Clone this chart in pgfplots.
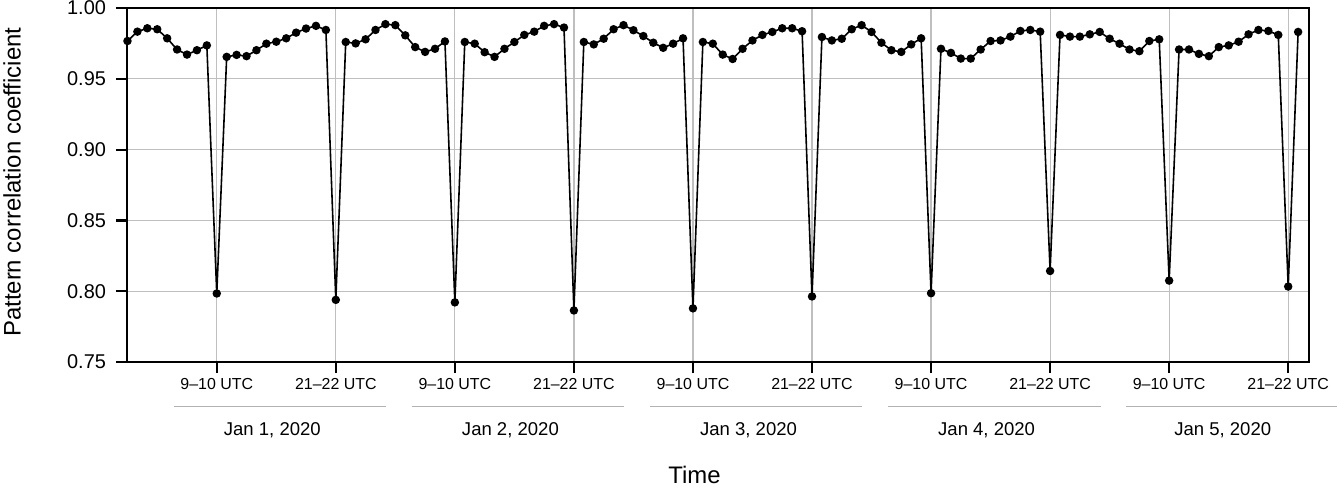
\documentclass[border=0pt]{standalone}
\usepackage{pgfplots}
\usepackage{pgfplotstable}
\pgfplotsset{compat=1.18}
\usepackage{fontspec}
\setmainfont{Liberation Sans}

% hourly pattern correlation, hour 0 = Jan 1 00 UTC
\pgfplotstableread{
h r
0 0.9767
1 0.9833
2 0.9857
3 0.9850
4 0.9786
5 0.9707
6 0.9671
7 0.9702
8 0.9736
9 0.7984
10 0.9655
11 0.9669
12 0.9660
13 0.9702
14 0.9748
15 0.9762
16 0.9786
17 0.9826
18 0.9855
19 0.9874
20 0.9845
21 0.7939
22 0.9760
23 0.9750
24 0.9779
25 0.9845
26 0.9886
27 0.9879
28 0.9807
29 0.9724
30 0.9690
31 0.9712
32 0.9764
33 0.7921
34 0.9760
35 0.9748
36 0.9688
37 0.9655
38 0.9712
39 0.9760
40 0.9810
41 0.9833
42 0.9874
43 0.9886
44 0.9862
45 0.7864
46 0.9760
47 0.9743
48 0.9783
49 0.9850
50 0.9879
51 0.9843
52 0.9802
53 0.9755
54 0.9719
55 0.9748
56 0.9786
57 0.7879
58 0.9760
59 0.9748
60 0.9671
61 0.9640
62 0.9712
63 0.9771
64 0.9810
65 0.9831
66 0.9857
67 0.9857
68 0.9836
69 0.7963
70 0.9795
71 0.9771
72 0.9783
73 0.9850
74 0.9879
75 0.9831
76 0.9755
77 0.9702
78 0.9690
79 0.9743
80 0.9786
81 0.7986
82 0.9712
83 0.9683
84 0.9643
85 0.9643
86 0.9707
87 0.9767
88 0.9771
89 0.9798
90 0.9838
91 0.9845
92 0.9833
93 0.8143
94 0.9810
95 0.9798
96 0.9798
97 0.9814
98 0.9831
99 0.9783
100 0.9748
101 0.9707
102 0.9695
103 0.9767
104 0.9779
105 0.8075
106 0.9707
107 0.9707
108 0.9676
109 0.9660
110 0.9724
111 0.9736
112 0.9762
113 0.9814
114 0.9845
115 0.9838
116 0.9810
117 0.8033
118 0.9831
}\corr

\begin{document}
\begin{tikzpicture}
\begin{axis}[
  scale only axis, width=591bp, height=177bp,
  xmin=-0.05, xmax=119.1, ymin=0.75, ymax=1.00,
  xtick={9,21,...,117}, xticklabels={},
  ytick={0.75,0.80,...,1.00},
  yticklabels={0.75,0.80,0.85,0.90,0.95,1.00},
  yticklabel style={font=\fontsize{10}{12}\selectfont, xshift=-1.5bp},
  xtick pos=bottom, ytick pos=left,
  tick align=outside, major tick length=5.5bp,
  tick style={black, line width=1.1pt},
  axis line style={line width=1.1pt},
  grid=major, grid style={gray!50, line width=0.6pt},
  clip=false,
]
  \addplot[black, line width=0.8pt, mark=*, mark size=1.7pt] table[x=h, y=r] {\corr};

  % hour labels under the ticks, and a rule under each day
  \foreach \d in {0,...,4}{
    \pgfmathsetmacro{\a}{9+24*\d}
    \pgfmathsetmacro{\b}{21+24*\d}
    \pgfmathsetmacro{\l}{4.65+24*\d}
    \pgfmathsetmacro{\r}{26.08+24*\d}
    \edef\tmp{
      \noexpand\node[anchor=base, font=\noexpand\fontsize{8}{10}\noexpand\selectfont] at (axis cs:\a,0.7307) {9--10 UTC};
      \noexpand\node[anchor=base, font=\noexpand\fontsize{8}{10}\noexpand\selectfont] at (axis cs:\b,0.7307) {21--22 UTC};
      \noexpand\draw[gray!60, line width=0.5pt] (axis cs:\l,0.7184) -- (axis cs:\r,0.7184);
    }\tmp
  }
  \node[anchor=base, font=\fontsize{9.3}{11}\selectfont] at (axis cs:14.6,0.6980) {Jan 1, 2020};
  \node[anchor=base, font=\fontsize{9.3}{11}\selectfont] at (axis cs:38.6,0.6980) {Jan 2, 2020};
  \node[anchor=base, font=\fontsize{9.3}{11}\selectfont] at (axis cs:62.6,0.6980) {Jan 3, 2020};
  \node[anchor=base, font=\fontsize{9.3}{11}\selectfont] at (axis cs:86.6,0.6980) {Jan 4, 2020};
  \node[anchor=base, font=\fontsize{9.3}{11}\selectfont] at (axis cs:110.4,0.6980) {Jan 5, 2020};

  \node[anchor=base, font=\fontsize{12}{14}\selectfont] at (axis cs:57.16,0.6640) {Time};
  \node[anchor=base, rotate=90, font=\fontsize{12}{14}\selectfont] at (axis cs:-10.77,0.877) {Pattern correlation coefficient};

  \coordinate (bbsw) at (axis cs:-12.85,0.66102);
  \coordinate (bbne) at (axis cs:121.92,1.00565);
\end{axis}
\pgfresetboundingbox
\path (bbsw) rectangle (bbne);
\end{tikzpicture}
\end{document}
